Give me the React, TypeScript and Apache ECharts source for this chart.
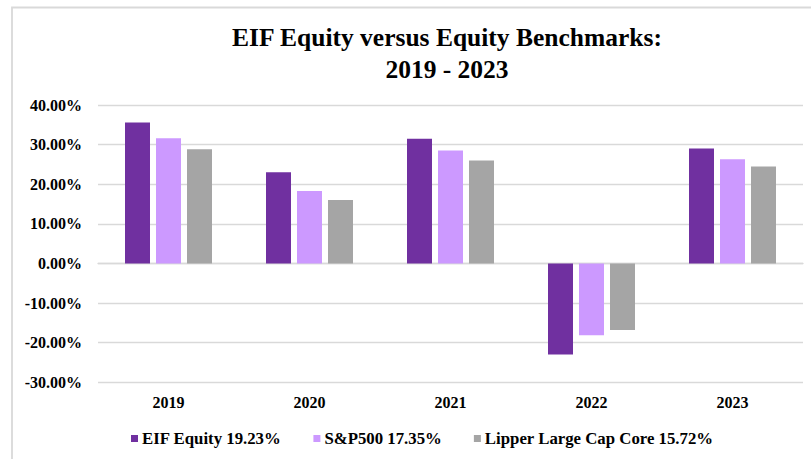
import React, { useEffect, useRef } from "react";
import * as echarts from "echarts";

const categories = ["2019", "2020", "2021", "2022", "2023"];
const eifEquity = [35.6, 23.0, 31.5, -23.0, 29.0];
const sp500 = [31.6, 18.3, 28.5, -18.1, 26.3];
const lipperLargeCapCore = [28.8, 16.0, 26.0, -16.8, 24.5];
const seriesNames = ["EIF Equity 19.23%", "S&P500 17.35%", "Lipper Large Cap Core 15.72%"];
const seriesColors = ["#7030A0", "#CC99FF", "#A5A5A5"];
const titleText = "EIF Equity versus Equity Benchmarks:\n2019 - 2023";

const FONT = "Liberation Serif";

export default function App() {
  const ref = useRef<HTMLDivElement>(null);
  useEffect(() => {
    document.body.style.margin = "0";
    if (!ref.current) return;
    const chart = echarts.init(ref.current, null, { renderer: "svg" });
    const data = [eifEquity, sp500, lipperLargeCapCore];
    chart.setOption({
      animation: false,
      backgroundColor: "#ffffff",
      title: {
        text: titleText,
        left: 447,
        top: 21,
        padding: 0,
        textAlign: "center",
        textStyle: {
          fontFamily: FONT,
          fontWeight: "bold",
          fontSize: 25.5,
          lineHeight: 32,
          color: "#000000",
        },
      },
      graphic: [
        {
          type: "rect",
          shape: { x: 12, y: 7.5, width: 1200, height: 1200 },
          style: { fill: "none", stroke: "#D9D9D9", lineWidth: 1.8 },
          silent: true,
          z: -1,
        },
      ],
      legend: {
        left: 131,
        top: 430,
        padding: 0,
        itemWidth: 7,
        itemHeight: 7,
        itemGap: 32,
        icon: "rect",
        textStyle: {
          fontFamily: FONT,
          fontWeight: "bold",
          fontSize: 16.8,
          color: "#000000",
          padding: [0, 0, 0, -1],
        },
        data: seriesNames,
      },
      grid: { left: 98, right: 8, top: 105, bottom: 76.7, containLabel: false },
      xAxis: {
        type: "category",
        data: categories,
        axisLine: { show: true, onZero: true, lineStyle: { color: "#D9D9D9", width: 1.3 } },
        axisTick: { show: false },
        axisLabel: {
          interval: 0,
          margin: 12,
          fontFamily: FONT,
          fontWeight: "bold",
          fontSize: 16,
          color: "#000000",
        },
      },
      yAxis: {
        type: "value",
        min: -30,
        max: 40,
        interval: 10,
        axisLine: { show: false },
        axisTick: { show: false },
        splitLine: { show: true, lineStyle: { color: "#D9D9D9", width: 1.3 } },
        axisLabel: {
          margin: 16,
          fontFamily: FONT,
          fontWeight: "bold",
          fontSize: 16,
          color: "#000000",
          formatter: (v: number) => `${v.toFixed(2)}%`,
        },
      },
      series: seriesNames.map((name, i) => ({
        name,
        type: "bar",
        data: data[i],
        barWidth: 25,
        barGap: "24%",
        itemStyle: { color: seriesColors[i] },
      })),
    });
    return () => chart.dispose();
  }, []);
  return <div ref={ref} style={{ width: 811, height: 459 }} />;
}
